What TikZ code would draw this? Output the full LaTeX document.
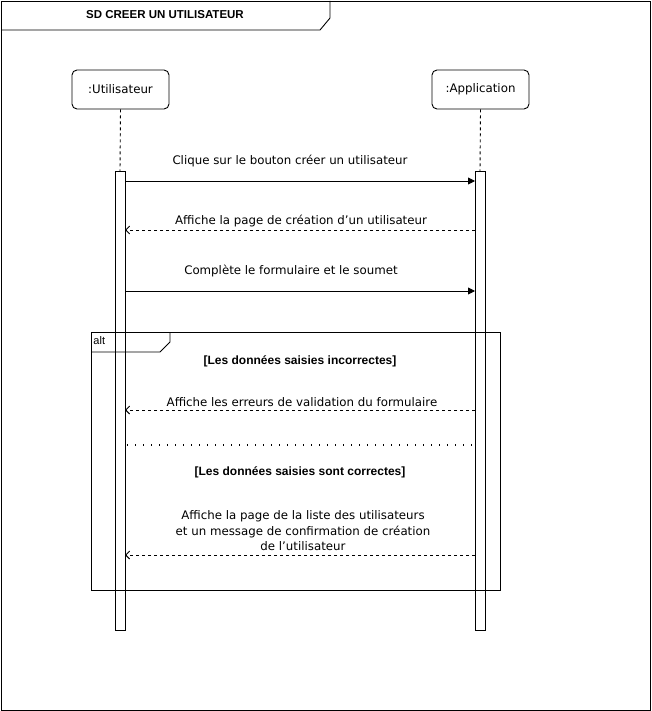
\documentclass[tikz,border=0pt]{standalone}
\usepackage{fontspec}
\setmainfont{DejaVu Sans}
\newfontfamily\arialfont{Liberation Sans}
\usetikzlibrary{arrows,arrows.meta,positioning,calc}

\tikzset{
  lifehead/.style={draw, rounded corners=5, minimum width=97pt, minimum height=39pt,
    inner sep=0pt, font=\fontsize{11.8}{13}\selectfont},
  actbar/.style={draw, fill=white, minimum width=10pt, minimum height=459pt, inner sep=0pt},
  msgcall/.style={-{Triangle[length=7pt,width=7pt]}},
  msgback/.style={-{Straight Barb[length=4pt,width=8pt]}, dash pattern=on 3pt off 3pt},
  msglabel/.style={font=\fontsize{11.8}{15.5}\selectfont, align=center, inner sep=0pt},
  guard/.style={font=\arialfont\bfseries\fontsize{12}{14}\selectfont, inner sep=0pt}
}

\begin{document}
\begin{tikzpicture}[x=1pt, y=-1pt, line width=0.9pt]
    \useasboundingbox (0,0) rectangle (651,711);

    % outer frame and its title tab
    \draw (1,1) rectangle (650,710);
    \draw (1,30) -- (320,30) -- (330,18) -- (330,1);
    \node[font=\arialfont\bfseries\fontsize{11.5}{13}\selectfont] (title) at (165,15) {SD CREER UN UTILISATEUR};

    % lifelines
    \node[lifehead] (user) at (120.5,89.5) {:Utilisateur};
    \node[lifehead] (app) at (480.5,89.5) {:Application};
    \node[actbar, anchor=north] (baruser) at (120,171) {};
    \node[actbar, anchor=north] (barapp) at (480,171) {};
    \draw[dash pattern=on 3pt off 3pt] (user.south) -- (baruser.north);
    \draw[dash pattern=on 3pt off 3pt] (app.south) -- (barapp.north);

    % message end points
    \coordinate (u1) at (125,181);  \coordinate (a1) at (475,181);
    \coordinate (u2) at (125,230);  \coordinate (a2) at (475,230);
    \coordinate (u3) at (125,291);  \coordinate (a3) at (475,291);
    \coordinate (u4) at (125,410);  \coordinate (a4) at (475,410);
    \coordinate (u5) at (125,555);  \coordinate (a5) at (475,555);

    \draw[msgcall] (u1) -- (a1);
    \node[msglabel] (l1) at (290,161) {Clique sur le bouton créer un utilisateur};
    \draw[msgback] (a2) -- (u2);
    \node[msglabel] (l2) at (301,221) {Affiche la page de création d\char39 un utilisateur};
    \draw[msgcall] (u3) -- (a3);
    \node[msglabel] (l3) at (291,271) {Complète le formulaire et le soumet};

    % alt fragment
    \draw (91,332) rectangle (500,590);
    \draw (91,352) -- (160,352) -- (170,342) -- (170,332);
    \node[font=\arialfont\fontsize{11}{13}\selectfont, anchor=west, inner sep=0pt] (alt) at (93,341) {alt};
    \node[guard] (g1) at (300,361) {[Les données saisies incorrectes]};
    \draw[msgback] (a4) -- (u4);
    \node[msglabel] (l4) at (302,402) {Affiche les erreurs de validation du formulaire};
    \coordinate (s1) at (127,445); \coordinate (s2) at (475,445);
    \draw[line width=1.3pt, dash pattern=on 1.3pt off 6.7pt] (s1) -- (s2);
    \node[guard] (g2) at (300,472) {[Les données saisies sont correctes]};
    \draw[msgback] (a5) -- (u5);
    \node[msglabel] (l5) at (303,531) {Affiche la page de la liste des utilisateurs\\et un message de confirmation de création\\de l\char39 utilisateur};
\end{tikzpicture}
\end{document}
